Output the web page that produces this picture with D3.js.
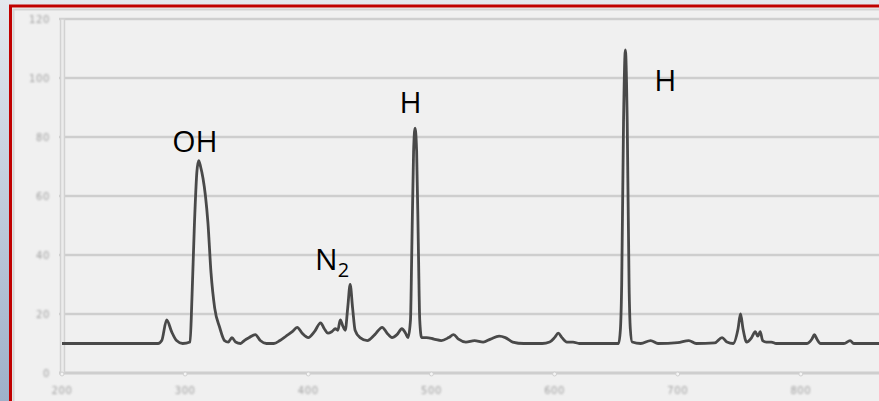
<!DOCTYPE html>
<html>

<head>
    <title>Emission Spectrum</title>
    <script src="https://d3js.org/d3.v7.min.js"></script>
    <style>
        body { margin: 0; overflow: hidden; }
    </style>
</head>

<body>
    <script>
        // spectrum: wavelength (nm) and intensity
        const wavelength = [200, 278, 281, 285, 289, 293, 298, 304, 305.5, 307.5, 309.5, 311, 312.5, 314.5, 316.5, 318.5, 321, 324, 328, 332,
            335, 338, 341, 345, 348, 352, 357, 361, 366, 372, 377, 382, 387, 391, 395, 400, 405, 410, 413, 416,
            419, 422, 424, 426, 428, 430, 432, 434, 436, 438, 442, 448, 454, 460, 464, 468, 472, 476, 479, 481,
            483, 484, 485.5, 486.7, 488, 489.5, 490.5, 492, 496, 502, 508, 514, 518, 522, 528, 535, 542, 548, 555, 560,
            566, 575, 590, 596, 600, 603, 606, 610, 615, 620, 652, 653.5, 654.5, 656, 657.5, 659, 660.5, 661.5, 663, 670,
            678, 684, 700, 709, 715, 730, 736, 740, 745, 749, 751, 753, 756, 760, 763, 765, 767, 769, 772, 776,
            780, 805, 809, 811, 813, 816, 835, 840, 843, 900];
        const intensity = [10, 10, 11, 18, 14, 11, 10, 10.5, 25, 50, 68, 72, 70, 66, 60, 51, 34, 22, 15.5, 11,
            10.5, 12, 10.5, 10, 11, 12, 13, 11, 10, 10, 11, 12.5, 14, 15.5, 13.5, 12, 14, 17, 15, 13.5,
            14, 15, 14.5, 18, 16, 14.5, 22, 30, 22, 14.5, 12, 11, 13, 15.5, 13.5, 12, 13, 15, 13.5, 12,
            18, 40, 75, 83, 75, 40, 18, 12, 12, 11.5, 11, 12, 13, 11.5, 10.5, 11, 10.5, 11.5, 12.5, 12,
            10.5, 10, 10, 10.5, 12, 13.5, 12, 10.5, 10.5, 10, 10, 15, 30, 85, 109.5, 85, 30, 15, 10.5, 10,
            11, 10, 10.3, 11, 10, 10.2, 12, 10.5, 10, 15, 20, 15, 10.5, 12, 14, 12.5, 14, 11, 10.5, 10.5,
            10, 10, 11.5, 13, 11.5, 10, 10, 11, 10, 10];

        const yTicks = [0, 20, 40, 60, 80, 100, 120];
        const xTicks = [200, 300, 400, 500, 600, 700, 800];

        // peak names, placed in data units (left edge / baseline)
        const labelText = ["OH", "N", "H", "H"];
        const labelSub = ["", "2", "", ""];
        const labelW = [289.5, 405.5, 474, 681];
        const labelV = [75, 35, 88, 95.5];

        const width = 879;
        const height = 401;

        const svg = d3.select("body").append("svg")
            .attr("width", width)
            .attr("height", height);

        const defs = svg.append("defs");
        const bg = defs.append("linearGradient")
            .attr("id", "bg")
            .attr("x1", 0).attr("y1", 0).attr("x2", 0).attr("y2", 1);
        bg.append("stop").attr("offset", "0%").attr("stop-color", "#e4e8ee");
        bg.append("stop").attr("offset", "100%").attr("stop-color", "#9eb0c9");

        defs.append("filter").attr("id", "soft")
            .append("feGaussianBlur").attr("stdDeviation", 0.6);
        defs.append("filter").attr("id", "softer")
            .append("feGaussianBlur").attr("stdDeviation", 1.1);

        // slide background, red frame and the grey panel
        svg.append("rect").attr("width", width).attr("height", height).attr("fill", "url(#bg)");
        svg.append("rect")
            .attr("x", 10.5).attr("y", 6)
            .attr("width", width + 20).attr("height", height + 20)
            .attr("fill", "#f0f0f0")
            .attr("stroke", "#c00000")
            .attr("stroke-width", 3);
        svg.append("path")
            .attr("d", `M13.5,${height}V9.5H${width}`)
            .attr("fill", "none")
            .attr("stroke", "#d4d4d4")
            .attr("stroke-width", 2);

        const x = d3.scaleLinear().domain([200, 900]).range([62, 924]);
        const y = d3.scaleLinear().domain([0, 120]).range([373, 19]);

        const chart = svg.append("g").attr("filter", "url(#soft)");

        // horizontal gridlines
        chart.append("g")
            .selectAll("line")
            .data(yTicks)
            .join("line")
            .attr("x1", x(200) - 3)
            .attr("x2", width)
            .attr("y1", d => y(d))
            .attr("y2", d => y(d))
            .attr("stroke", "#cecece")
            .attr("stroke-width", d => d === 0 ? 3 : 2.6);

        // left axis drawn as a hollow bar
        chart.append("rect")
            .attr("x", x(200) - 1.5)
            .attr("y", y(120))
            .attr("width", 4)
            .attr("height", y(0) - y(120))
            .attr("fill", "#ececec")
            .attr("stroke", "#d2d2d2")
            .attr("stroke-width", 1.5);

        // small ticks on the bottom axis
        chart.append("g")
            .selectAll("circle")
            .data(xTicks)
            .join("circle")
            .attr("cx", d => x(d))
            .attr("cy", y(0) + 1)
            .attr("r", 2)
            .attr("fill", "#f4f4f4")
            .attr("stroke", "#d0d0d0");

        const tickText = svg.append("g")
            .attr("filter", "url(#softer)")
            .style("font-family", "'DejaVu Sans', sans-serif")
            .style("font-size", "10px")
            .style("letter-spacing", "0.6px")
            .style("fill", "#a0a0a0");

        tickText.selectAll(".ylab")
            .data(yTicks)
            .join("text")
            .attr("class", "ylab")
            .attr("x", 50)
            .attr("y", d => y(d) + 3.5)
            .attr("text-anchor", "end")
            .text(d => d);

        tickText.selectAll(".xlab")
            .data(xTicks)
            .join("text")
            .attr("class", "xlab")
            .attr("x", d => x(d))
            .attr("y", 394)
            .attr("text-anchor", "middle")
            .text(d => d);

        // the spectrum
        const points = wavelength.map((w, i) => [w, intensity[i]]);
        const line = d3.line()
            .x(d => x(d[0]))
            .y(d => y(d[1]))
            .curve(d3.curveMonotoneX);

        chart.append("path")
            .datum(points)
            .attr("d", line)
            .attr("fill", "none")
            .attr("stroke", "#4a4a4a")
            .attr("stroke-width", 2.8)
            .attr("stroke-linejoin", "round");

        // peak labels
        const lab = svg.append("g")
            .style("font-family", "'Open Sans', sans-serif")
            .style("font-size", "30px")
            .style("fill", "#000");

        labelText.forEach((txt, i) => {
            const t = lab.append("text")
                .attr("x", x(labelW[i]))
                .attr("y", y(labelV[i]));
            t.append("tspan").text(txt);
            if (labelSub[i]) {
                t.append("tspan")
                    .attr("dy", 7)
                    .style("font-size", "20px")
                    .text(labelSub[i]);
            }
        });
    </script>
</body>

</html>
